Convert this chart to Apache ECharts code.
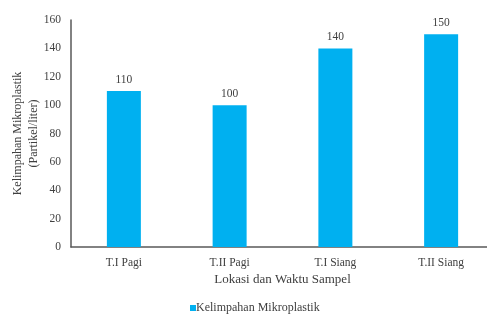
<!DOCTYPE html>
<html>
<head>
<meta charset="utf-8">
<script src="https://cdn.jsdelivr.net/npm/echarts@6/dist/echarts.min.js"></script>
<style>
  html, body { margin: 0; padding: 0; background: #fff; }
  #main { width: 487px; height: 315px; }
</style>
</head>
<body>
<div id="main"></div>
<script>
const categories = ['T.I Pagi', 'T.II Pagi', 'T.I Siang', 'T.II Siang'];
const values = [110, 100, 140, 150];
const seriesName = 'Kelimpahan Mikroplastik';
const xTitle = 'Lokasi dan Waktu Sampel';
const yTitle = 'Kelimpahan Mikroplastik\n(Partikel/liter)';

const Font = '"Liberation Serif", "Times New Roman", serif';
const TextColor = '#404040';

const chart = echarts.init(document.getElementById('main'));

chart.setOption({
  animation: false,
  backgroundColor: '#ffffff',
  textStyle: { fontFamily: Font },
  grid: { left: 71, top: 20, right: -7, bottom: 68, containLabel: false, outerBoundsMode: 'none' },
  legend: {
    top: 297,
    left: 185,
    itemWidth: 6,
    itemHeight: 6,
    itemGap: 4,
    icon: 'rect',
    textStyle: { fontFamily: Font, fontSize: 12, color: TextColor, padding: [0, 0, 0, -5] },
    data: [seriesName]
  },
  xAxis: {
    type: 'category',
    data: categories,
    name: xTitle,
    nameLocation: 'middle',
    nameGap: 26,
    nameMoveOverlap: false,
    nameTextStyle: { fontFamily: Font, fontSize: 13, color: TextColor },
    axisLine: { lineStyle: { color: '#595959', width: 1.5 } },
    axisTick: { show: false },
    axisLabel: { fontFamily: Font, fontSize: 11.5, color: TextColor, margin: 10 }
  },
  yAxis: {
    type: 'value',
    min: 0,
    max: 160,
    interval: 20,
    name: yTitle,
    nameLocation: 'middle',
    nameGap: 29,
    nameMoveOverlap: false,
    nameTextStyle: { fontFamily: Font, fontSize: 12, color: TextColor, lineHeight: 16 },
    axisLine: { show: true, lineStyle: { color: '#595959', width: 1.5 } },
    axisTick: { show: false },
    splitLine: { show: false },
    axisLabel: { fontFamily: Font, fontSize: 11.5, color: TextColor, margin: 10 }
  },
  series: [{
    name: seriesName,
    type: 'bar',
    data: values,
    barWidth: 34,
    itemStyle: { color: '#00B0F0' },
    label: {
      show: true,
      position: 'top',
      distance: 5,
      fontFamily: Font,
      fontSize: 11.5,
      color: TextColor
    }
  }]
});
</script>
</body>
</html>
